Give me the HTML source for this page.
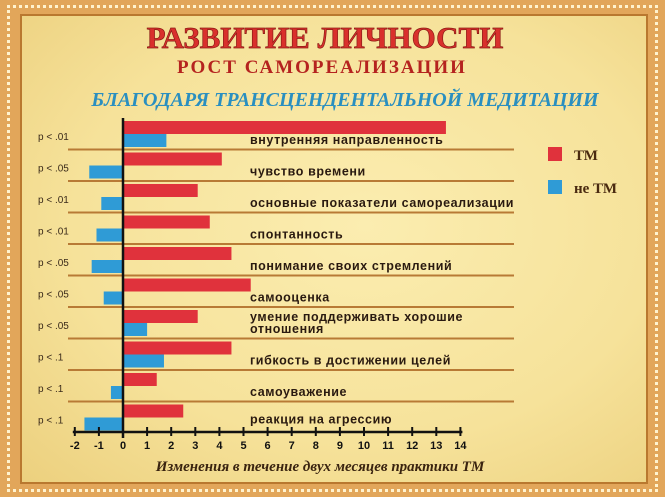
<!DOCTYPE html>
<html><head><meta charset="utf-8"><style>
body{margin:0;width:665px;height:497px;overflow:hidden}
#wrap{position:relative;width:665px;height:497px;background:#e2a65a}
#inner{position:absolute;left:20px;top:14px;width:628px;height:470px;background:radial-gradient(ellipse at 55% 45%,#fbedb0 0%,#f6e29a 60%,#ecd07e 100%);border:2px solid #b9782f;box-sizing:border-box}
#frame{position:absolute;left:7px;top:5px;width:651px;height:487px;border:3px dotted #fff3cf;box-sizing:border-box}
svg{position:absolute;left:0;top:0}
</style></head><body>
<div id="wrap">
<div id="frame"></div>
<div id="inner"></div>
<svg id="chart" width="665" height="497">
<text x="325" y="48" text-anchor="middle" font-family="Liberation Serif,serif" font-weight="bold" font-size="31" fill="#d9302c" stroke="#8a1a15" stroke-width="0.7">РАЗВИТИЕ ЛИЧНОСТИ</text>
<text x="322" y="73" text-anchor="middle" font-family="Liberation Serif,serif" font-weight="bold" font-size="19" fill="#b5231f" letter-spacing="2">РОСТ САМОРЕАЛИЗАЦИИ</text>
<text x="345" y="106" text-anchor="middle" font-family="Liberation Serif,serif" font-weight="bold" font-style="italic" font-size="20" fill="#2a8fc0">БЛАГОДАРЯ ТРАНСЦЕНДЕНТАЛЬНОЙ МЕДИТАЦИИ</text>
<g id="rows"></g>
<rect x="548" y="147" width="14" height="14" fill="#e0323c"/>
<text x="574" y="160" font-family="Liberation Serif,serif" font-weight="bold" font-size="15" fill="#4a2a10">ТМ</text>
<rect x="548" y="180" width="14" height="14" fill="#2f9bd6"/>
<text x="574" y="193" font-family="Liberation Serif,serif" font-weight="bold" font-size="15" fill="#4a2a10">не ТМ</text>
<text x="320" y="471" text-anchor="middle" font-family="Liberation Serif,serif" font-weight="bold" font-style="italic" font-size="15" fill="#3a2410">Изменения в течение двух месяцев практики ТМ</text>
</svg>
</div>
<script>
const categories=["внутренняя направленность","чувство времени","основные показатели самореализации","спонтанность","понимание своих стремлений","самооценка","умение поддерживать хорошие|отношения","гибкость в достижении целей","самоуважение","реакция на агрессию"];
const pValues=["p < .01","p < .05","p < .01","p < .01","p < .05","p < .05","p < .05","p < .1","p < .1","p < .1"];
const tmValues=[13.4,4.1,3.1,3.6,4.5,5.3,3.1,4.5,1.4,2.5];
const notTmValues=[1.8,-1.4,-0.9,-1.1,-1.3,-0.8,1.0,1.7,-0.5,-1.6];
const ticks=[-2,-1,0,1,2,3,4,5,6,7,8,9,10,11,12,13,14];
const NS="http://www.w3.org/2000/svg";
const x0=123,unit=24.1,rowTop=120,pitch=31.5,axisY=432;
const xs=v=>x0+v*unit;
const g=document.getElementById('rows');
function el(t,a,p){const e=document.createElementNS(NS,t);for(const k in a)e.setAttribute(k,a[k]);(p||g).appendChild(e);return e;}
categories.forEach((c,i)=>{
 const y=rowTop+i*pitch;
 let r=el('rect',{x:Math.min(xs(0),xs(tmValues[i])),y:y+1,width:Math.abs(xs(tmValues[i])-xs(0)),height:13,fill:'#e0323c'});
 
 
 let b=el('rect',{x:Math.min(xs(0),xs(notTmValues[i])),y:y+14,width:Math.abs(xs(notTmValues[i])-xs(0)),height:13,fill:'#2f9bd6'});
 
 
 if(i<9){let l=el('line',{x1:68,x2:514,y1:y+pitch-2,y2:y+pitch-2,stroke:'#b87a35','stroke-width':2});
 
 }
 let p=el('text',{x:38,y:y+20,'font-family':'Liberation Sans,sans-serif','font-size':10,fill:'#3a2a1a'});p.textContent=pValues[i];
 
 
 const parts=c.split('|');
 parts.forEach((s,j)=>{let t=el('text',{x:250,y:y+(parts.length>1?12+j*12:(i==9?20:24)),'font-family':'Liberation Sans,sans-serif','font-weight':'bold','font-size':12.5,'letter-spacing':0.6,fill:'#2a1a10'});t.textContent=s;
 
 });
});
let ax=el('line',{x1:xs(0),x2:xs(0),y1:118,y2:axisY+6,stroke:'#111','stroke-width':2.5});


let xa=el('line',{x1:xs(-2)-2,x2:xs(14)+2,y1:axisY,y2:axisY,stroke:'#111','stroke-width':2.5});


ticks.forEach(v=>{
 let t=el('line',{x1:xs(v),x2:xs(v),y1:axisY-5,y2:axisY+4,stroke:'#111','stroke-width':2});
 
 
 let l=el('text',{x:xs(v),y:axisY+17,'text-anchor':'middle','font-family':'Liberation Sans,sans-serif','font-weight':'bold','font-size':11,fill:'#111'});l.textContent=v;
 
 
});
</script>
</body></html>
